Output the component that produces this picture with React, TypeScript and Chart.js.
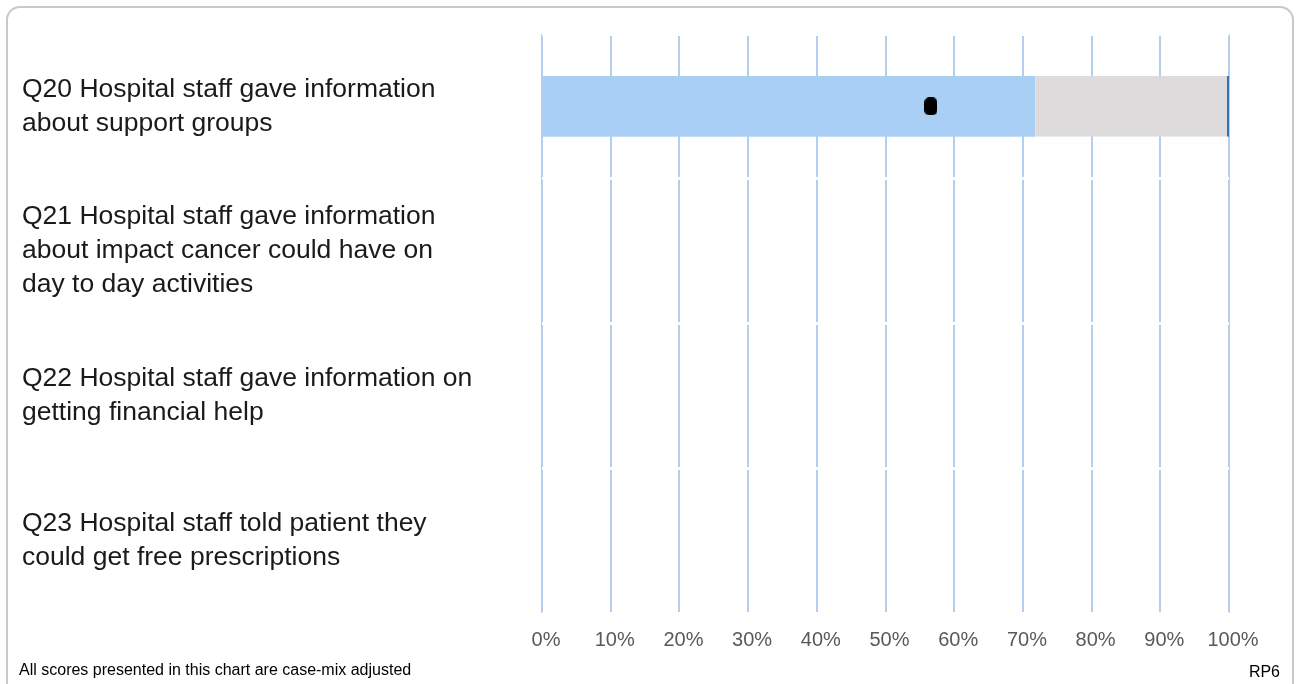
import React, { useEffect, useRef } from 'react';
import { Chart, registerables } from 'chart.js';

Chart.register(...registerables);

const categories: string[][] = [
  ['Q20 Hospital staff gave information', 'about support groups'],
  ['Q21 Hospital staff gave information', 'about impact cancer could have on', 'day to day activities'],
  ['Q22 Hospital staff gave information on', 'getting financial help'],
  ['Q23 Hospital staff told patient they', 'could get free prescriptions'],
];
const scores: (number | null)[] = [71.8, null, null, null];
const rangeMax: (number | null)[] = [100, null, null, null];
const markerValues: (number | null)[] = [56.6, null, null, null];
const xTickValues: number[] = [0, 10, 20, 30, 40, 50, 60, 70, 80, 90, 100];

const footnote = 'All scores presented in this chart are case-mix adjusted';
const chartCode = 'RP6';

const FONT = '"Liberation Sans", Arial, Helvetica, sans-serif';

function makeMarker(): HTMLCanvasElement {
  const c = document.createElement('canvas');
  c.width = 13;
  c.height = 18;
  const ctx = c.getContext('2d')!;
  ctx.fillStyle = '#000000';
  ctx.beginPath();
  (ctx as any).roundRect(0, 0, 13, 18, 5);
  ctx.fill();
  return c;
}

export default function App() {
  const ref = useRef<HTMLCanvasElement | null>(null);

  useEffect(() => {
    if (!ref.current) return;
    const marker = makeMarker();
    const chart = new Chart(ref.current, {
      type: 'bar',
      data: {
        labels: categories,
        datasets: [
          {
            type: 'line',
            indexAxis: 'y',
            data: markerValues,
            showLine: false,
            pointStyle: marker as any,
            pointRadius: 8,
            borderColor: '#000',
            backgroundColor: '#000',
            order: 0,
          } as any,
          {
            type: 'bar',
            data: scores.map((s) => (s == null ? null : [0, s])) as any,
            backgroundColor: '#A9CFF4',
            borderWidth: 0,
            grouped: false,
            categoryPercentage: 1,
            barPercentage: 0.42,
            order: 1,
          } as any,
          {
            type: 'bar',
            data: scores.map((s, i) => (s == null || rangeMax[i] == null ? null : [s, rangeMax[i]])) as any,
            backgroundColor: '#DDDBDB',
            borderColor: '#2E75B6',
            borderWidth: { left: 0, top: 0, bottom: 0, right: 2 },
            borderSkipped: false,
            grouped: false,
            categoryPercentage: 1,
            barPercentage: 0.42,
            order: 2,
          } as any,
        ],
      },
      options: {
        indexAxis: 'y',
        animation: false,
        responsive: false,
        devicePixelRatio: 1,
        layout: { padding: { left: 22, top: 33, right: 67, bottom: 31 } },
        plugins: {
          legend: { display: false },
          tooltip: { enabled: false },
          title: { display: false },
        },
        scales: {
          x: {
            type: 'linear',
            position: 'bottom',
            min: 0,
            max: 100,
            afterBuildTicks: (scale: any) => {
              scale.ticks = xTickValues.map((v) => ({ value: v }));
            },
            afterFit: (scale: any) => {
              scale.height = 40;
            },
            grid: { color: '#B4CEEE', lineWidth: 2, drawTicks: false },
            border: { display: false },
            ticks: {
              callback: (v: any) => v + '%',
              color: '#595959',
              font: { family: FONT, size: 20 },
              padding: 15,
              labelOffset: 4,
              maxRotation: 0,
            },
          },
          y: {
            type: 'category',
            offset: true,
            afterFit: (scale: any) => {
              scale.width = 520;
            },
            grid: { color: '#FFFFFF', lineWidth: 3, drawTicks: false, offset: true, z: 1 },
            border: { display: false },
            ticks: {
              crossAlign: 'far',
              padding: 0,
              color: '#1A1A1A',
              font: { family: FONT, size: 26.5, lineHeight: '34px' },
            },
          },
        },
      } as any,
    });
    return () => chart.destroy();
  }, []);

  return (
    <div
      style={{
        position: 'fixed',
        left: 0,
        top: 0,
        width: 1296,
        height: 684,
        overflow: 'hidden',
        background: '#FFFFFF',
      }}
    >
      <div
        style={{
          position: 'absolute',
          left: 6,
          top: 6,
          width: 1288,
          height: 700,
          border: '2px solid #C9C9C9',
          borderRadius: 14,
          boxSizing: 'border-box',
        }}
      />
      <canvas
        ref={ref}
        width={1296}
        height={684}
        style={{ position: 'absolute', left: 0, top: 0, display: 'block' }}
      />
      <span
        style={{
          position: 'absolute',
          left: 19,
          top: 662,
          fontFamily: FONT,
          fontSize: 16,
          lineHeight: '16px',
          color: '#000',
          whiteSpace: 'nowrap',
        }}
      >
        {footnote}
      </span>
      <span
        style={{
          position: 'absolute',
          right: 16,
          top: 664,
          fontFamily: FONT,
          fontSize: 16,
          lineHeight: '16px',
          color: '#000',
          whiteSpace: 'nowrap',
        }}
      >
        {chartCode}
      </span>
    </div>
  );
}
